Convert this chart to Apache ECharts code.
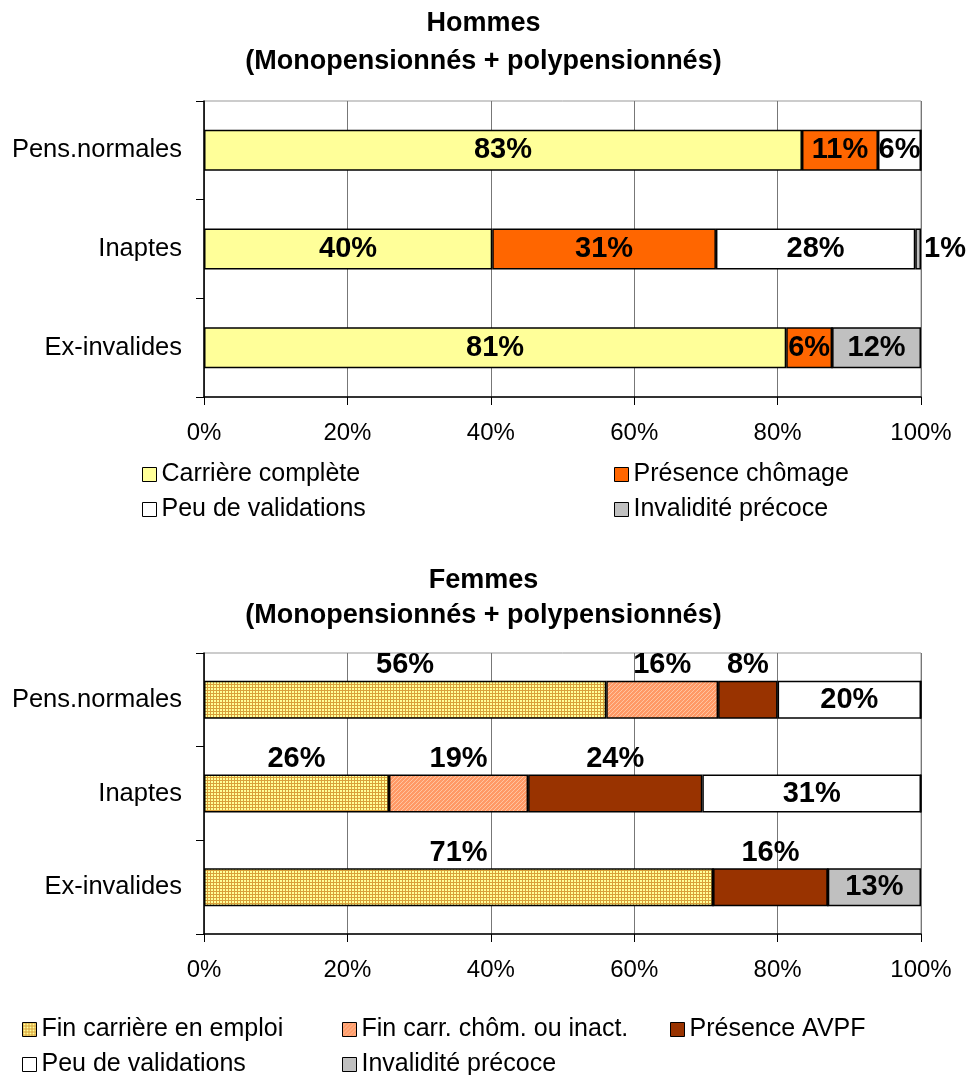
<!DOCTYPE html>
<html>
<head>
<meta charset="utf-8">
<script src="https://cdn.jsdelivr.net/npm/echarts@6/dist/echarts.min.js"></script>
<style>
  body { margin: 0; background: #fff; }
  #main { width: 967px; height: 1075px; }
</style>
</head>
<body>
<div id="main"></div>
<script>
// données
const categories = ['Pens.normales', 'Inaptes', 'Ex-invalides']
const xTicks = [0, 20, 40, 60, 80, 100]

// Hommes
const carriereComplete = [83.4, 40.2, 81.2]
const presenceChomage = [10.6, 31.2, 6.4]
const peuValidationsH = [6.0, 27.8, 0]
const invaliditeH = [0, 0.8, 12.4]

// Femmes
const finCarriereEmploi = [56.1, 25.8, 71.0]
const finCarrChom = [15.6, 19.4, 0]
const presenceAVPF = [8.3, 24.3, 16.0]
const peuValidationsF = [20.0, 30.5, 0]
const invaliditeF = [0, 0, 13.0]

const FONT = "'Liberation Sans', Arial, sans-serif"

function gridPattern() {
  const c = document.createElement('canvas')
  c.width = 3; c.height = 3
  const ctx = c.getContext('2d')
  ctx.fillStyle = '#FFFF99'
  ctx.fillRect(0, 0, 3, 3)
  ctx.fillStyle = '#D9A03A'
  ctx.fillRect(0, 0, 3, 1)
  ctx.fillRect(0, 0, 1, 3)
  return c
}
function diagPattern() {
  const c = document.createElement('canvas')
  c.width = 4; c.height = 4
  const ctx = c.getContext('2d')
  ctx.fillStyle = '#FF9966'
  ctx.fillRect(0, 0, 4, 4)
  ctx.fillStyle = '#FFC4A0'
  for (let i = 0; i < 4; i++) ctx.fillRect(i, 3 - i, 1, 1)
  return c
}

const pct = p => (p.value ? Math.round(p.value) + '%' : '')
const labelFont = { fontSize: 29, fontWeight: 'bold', color: '#000', fontFamily: FONT }

function bar(name, data, stack, xi, color, pos, barWidth) {
  return {
    name, type: 'bar', stack, xAxisIndex: xi, yAxisIndex: xi, barWidth,
    itemStyle: { color, borderColor: '#000', borderWidth: 1.5 },
    label: { show: true, position: pos, distance: 1, formatter: pct, ...labelFont },
    // petites valeurs : étiquette à droite de la barre
    data: data.map(v => (v > 0 && v < 3 ? { value: v, label: { position: 'right', distance: 3 } } : v))
  }
}

function xAxis(gi) {
  return {
    type: 'value', gridIndex: gi, min: 0, max: 100, interval: 20,
    axisLine: { show: true, lineStyle: { color: '#000', width: 1.5 } },
    axisTick: { show: true, length: 8, lineStyle: { color: '#000' } },
    splitLine: { show: true, lineStyle: { color: '#777', width: 1 } },
    axisLabel: { margin: 24, fontSize: 24, color: '#000', fontFamily: FONT,
      formatter: v => (xTicks.includes(v) ? v + '%' : '') }
  }
}
function yAxis(gi) {
  return {
    type: 'category', gridIndex: gi, data: categories, inverse: true,
    axisLine: { show: true, lineStyle: { color: '#000', width: 1.5 } },
    axisTick: { show: true, length: 8, lineStyle: { color: '#000' } },
    axisLabel: { margin: 22, fontSize: 25.5, color: '#000', fontFamily: FONT }
  }
}

const legendBase = {
  orient: 'horizontal', icon: 'rect', itemWidth: 14, itemHeight: 14,
  itemStyle: { borderColor: '#000', borderWidth: 1 },
  textStyle: { fontSize: 25, color: '#000', fontFamily: FONT },
  selectedMode: false
}
// une légende par entrée, placée comme dans l'original
const leg = (name, left, top) => ({ ...legendBase, left, top, data: [name] })

const chart = echarts.init(document.getElementById('main'))
chart.setOption({
  backgroundColor: '#fff',
  animation: false,
  title: [
    { text: 'Hommes\n(Monopensionnés + polypensionnés)', left: 'center', top: 0,
      textStyle: { fontSize: 27, fontWeight: 'bold', color: '#000', lineHeight: 38, fontFamily: FONT } },
    { text: 'Femmes\n(Monopensionnés + polypensionnés)', left: 'center', top: 558,
      textStyle: { fontSize: 27, fontWeight: 'bold', color: '#000', lineHeight: 35, fontFamily: FONT } }
  ],
  grid: [
    { left: 204, top: 101, width: 717, height: 296, show: true, borderColor: '#999', borderWidth: 1, backgroundColor: '#fff' },
    { left: 204, top: 653, width: 717, height: 281, show: true, borderColor: '#999', borderWidth: 1, backgroundColor: '#fff' }
  ],
  xAxis: [xAxis(0), xAxis(1)],
  yAxis: [yAxis(0), yAxis(1)],
  legend: [
    leg('Carrière complète', 137, 457),
    leg('Peu de validations', 137, 492),
    leg('Présence chômage', 609, 457),
    leg('Invalidité précoce', 609, 492),
    leg('Fin carrière en emploi', 17, 1012),
    leg('Peu de validations', 17, 1047),
    leg('Fin carr. chôm. ou inact.', 337, 1012),
    leg('Invalidité précoce', 337, 1047),
    leg('Présence AVPF', 665, 1012)
  ],
  series: [
    bar('Carrière complète', carriereComplete, 'h', 0, '#FFFF99', 'inside', 41),
    bar('Présence chômage', presenceChomage, 'h', 0, '#FF6600', 'inside', 41),
    bar('Peu de validations', peuValidationsH, 'h', 0, '#FFFFFF', 'inside', 41),
    bar('Invalidité précoce', invaliditeH, 'h', 0, '#C0C0C0', 'inside', 41),
    bar('Fin carrière en emploi', finCarriereEmploi, 'f', 1, { image: gridPattern(), repeat: 'repeat' }, 'top', 38),
    bar('Fin carr. chôm. ou inact.', finCarrChom, 'f', 1, { image: diagPattern(), repeat: 'repeat' }, 'top', 38),
    bar('Présence AVPF', presenceAVPF, 'f', 1, '#993300', 'top', 38),
    bar('Peu de validations', peuValidationsF, 'f', 1, '#FFFFFF', 'inside', 38),
    bar('Invalidité précoce', invaliditeF, 'f', 1, '#C0C0C0', 'inside', 38)
  ]
})
</script>
</body>
</html>
